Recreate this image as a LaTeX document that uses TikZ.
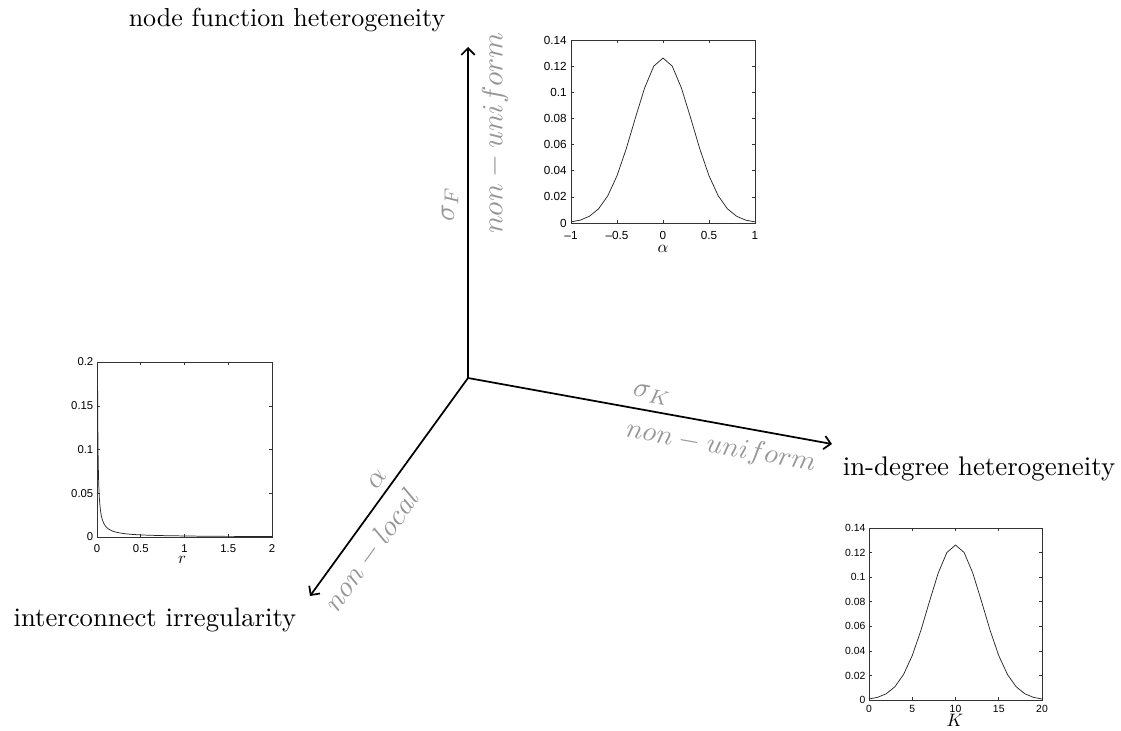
\documentclass[tikz,border=0pt]{standalone}
\usepackage{graphicx}
\usepackage{fontspec}
\newfontfamily\plotfont{Liberation Sans}
\usetikzlibrary{arrows.meta}
\definecolor{lab}{RGB}{150,150,150}
\newcommand{\bigmath}[2]{\scalebox{#1}{$#2$}}
\newcommand{\bigtxt}[2]{\scalebox{#1}{#2}}
\tikzset{
 axisarrow/.style={line width=1.3pt, -{Straight Barb[length=5pt,width=10pt,line width=1.3pt]}},
 bigtext/.style={inner sep=0pt, anchor=base},
 graylab/.style={text=lab, inner sep=0pt},
 plotbox/.style={line width=0.5pt, draw=black!80},
 curve/.style={line width=0.55pt, draw=black!85},
 tickmark/.style={line width=0.4pt, draw=black!80},
 tlabA/.style={font=\plotfont\fontsize{8.8}{10}\selectfont, inner sep=0pt},
 tlabB/.style={font=\plotfont\fontsize{8.5}{10}\selectfont, inner sep=0pt},
 tlabC/.style={font=\plotfont\fontsize{7.8}{10}\selectfont, inner sep=0pt},
 xlab/.style={inner sep=0pt},
}
\begin{document}
\begin{tikzpicture}[x=0.75pt,y=-0.75pt]
\useasboundingbox (0,0) rectangle (1121,731);
% axes
\coordinate (O) at (468,378);
\coordinate (Ftip) at (468,47);
\coordinate (Ktip) at (832,444);
\coordinate (Atip) at (310,596);
\draw[axisarrow] (O) -- (Ftip);
\draw[axisarrow] (O) -- (Ktip);
\draw[axisarrow] (O) -- (Atip);
% black labels
\node[bigtext] (tF) at (287,27) {\bigtxt{1.95}{node function heterogeneity}};
\node[bigtext] (tK) at (979,475) {\bigtxt{2.02}{in-degree heterogeneity}};
\node[bigtext] (tA) at (155,626) {\bigtxt{2.0}{interconnect irregularity}};
% gray labels
\node[graylab, rotate=90] (sF) at (450,204) {\bigmath{2.15}{\sigma_F}};
\node[graylab, rotate=90] (uF) at (495,133) {\bigmath{2.2}{non-uniform}};
\node[graylab, rotate=-10.3] (sK) at (652,395) {\bigmath{2.15}{\sigma_K}};
\node[graylab, rotate=-10.3] (uK) at (721,447) {\bigmath{2.1}{non-uniform}};
\node[graylab, rotate=54] (sA) at (377,479) {\bigmath{2.15}{\alpha}};
\node[graylab, rotate=54] (uA) at (372,550) {\bigmath{2.15}{non-local}};

% top plot
\begin{scope}[shift={(663,223)}, x=69pt, y=980.4pt]
 \draw[plotbox] (-1,0) rectangle (1,0.14);
 \foreach \v/\t [count=\i] in {-1/\textendash1,-0.5/\textendash0.5,0/0,0.5/0.5,1/1} {
  \draw[tickmark] (\v,0) -- ++(0pt,2.5pt);
  \draw[tickmark] (\v,0.14) -- ++(0pt,-2.5pt);
  \node[tlabA, anchor=north, yshift=-6.3pt] (tax\i) at (\v,0) {\t};
 }
 \foreach \v [count=\i] in {0,0.02,0.04,0.06,0.08,0.1,0.12,0.14} {
  \draw[tickmark] (-1,\v) -- ++(2.5pt,0pt);
  \draw[tickmark] (1,\v) -- ++(-2.5pt,0pt);
  \node[tlabA, anchor=east, xshift=-3pt] (tay\i) at (-1,\v) {\v};
 }
 \draw[curve] plot[domain=-1:1, samples=21] (\x,{0.12616*exp(0-5*\x*\x)});
\end{scope}
\node[xlab] (xa) at (663,249) {\bigmath{1.25}{\alpha}};

% left plot
\begin{scope}[shift={(97,537)}, x=65.625pt, y=656pt]
 \draw[plotbox] (0,0) rectangle (2,0.2);
 \foreach \v [count=\i] in {0,0.5,1,1.5,2} {
  \draw[tickmark] (\v,0) -- ++(0pt,2.5pt);
  \draw[tickmark] (\v,0.2) -- ++(0pt,-2.5pt);
  \node[tlabB, anchor=north, yshift=-5.3pt] (tbx\i) at (\v,0) {\v};
 }
 \foreach \v [count=\i] in {0,0.05,0.1,0.15,0.2} {
  \draw[tickmark] (0,\v) -- ++(2.5pt,0pt);
  \draw[tickmark] (2,\v) -- ++(-2.5pt,0pt);
  \node[tlabB, anchor=east, xshift=-2.6pt] (tby\i) at (0,\v) {\v};
 }
 \draw[curve] plot[smooth, samples at={0.007,0.008,0.009,0.01,0.012,0.014,0.017,0.02,0.025,0.03,0.04,0.05,0.06,0.08,0.1,0.13,0.17,0.22,0.3,0.4,0.55,0.75,1,1.3,1.6,2}] (\x,{0.0012/\x});
\end{scope}
\node[xlab] (xr) at (182,560) {\bigmath{1.25}{r}};

% bottom-right plot
\begin{scope}[shift={(869,700)}, x=6.4875pt, y=921.4pt]
 \draw[plotbox] (0,0) rectangle (20,0.14);
 \foreach \v [count=\i] in {0,5,10,15,20} {
  \draw[tickmark] (\v,0) -- ++(0pt,2.5pt);
  \draw[tickmark] (\v,0.14) -- ++(0pt,-2.5pt);
  \node[tlabC, anchor=north, yshift=-3.8pt] (tcx\i) at (\v,0) {\v};
 }
 \foreach \v [count=\i] in {0,0.02,0.04,0.06,0.08,0.1,0.12,0.14} {
  \draw[tickmark] (0,\v) -- ++(2.5pt,0pt);
  \draw[tickmark] (20,\v) -- ++(-2.5pt,0pt);
  \node[tlabC, anchor=east, xshift=-2.5pt] (tcy\i) at (0,\v) {\v};
 }
 \draw[curve] plot[domain=0:20, samples=21] (\x,{0.12616*exp(0-(\x-10)*(\x-10)/20)});
\end{scope}
\node[xlab] (xk) at (955,720) {\bigmath{1.35}{K}};
\end{tikzpicture}
\end{document}
